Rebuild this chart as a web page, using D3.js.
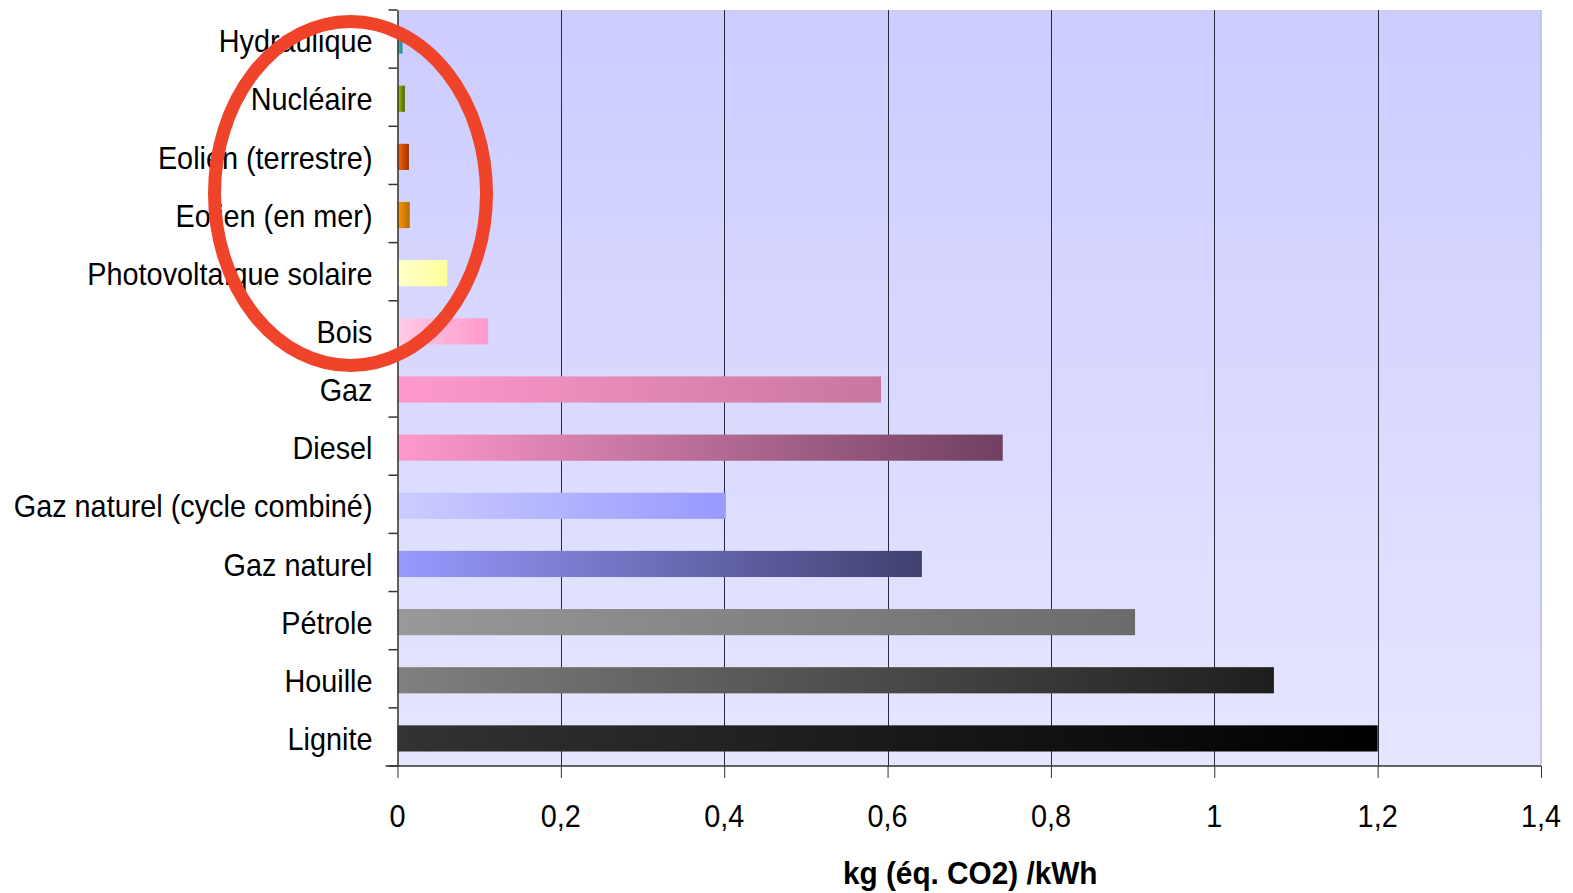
<!DOCTYPE html>
<html><head><meta charset="utf-8">
<script src="https://cdn.jsdelivr.net/npm/d3@7"></script>
<style>body{margin:0;background:#fff;}svg{display:block;font-family:Arial,"Liberation Sans",sans-serif;}</style>
</head><body>
<svg id="c" width="1573" height="893"></svg>
<script>
const categories = ["Hydraulique","Nucléaire","Eolien (terrestre)","Eolien (en mer)","Photovoltaïque solaire","Bois","Gaz","Diesel","Gaz naturel (cycle combiné)","Gaz naturel","Pétrole","Houille","Lignite"];
const values = [0.006,0.009,0.014,0.015,0.061,0.111,0.592,0.741,0.402,0.642,0.903,1.073,1.2];
const colorStart = ["#40d0d0","#99cc00","#ff6600","#ff9900","#ffffcc","#ffcce6","#ff99cc","#ff99cc","#ccccff","#9999ff","#999999","#808080","#333333"];
const colorEnd =   ["#1a8080","#4d6600","#993300","#b36b00","#ffff99","#ff99cc","#c8779f","#704060","#9999ff","#404070","#6b6b6b","#1e1e1e","#000000"];
const xTicks = [0,0.2,0.4,0.6,0.8,1,1.2,1.4];
const xTickLabels = ["0","0,2","0,4","0,6","0,8","1","1,2","1,4"];
const xTitle = "kg (éq. CO2) /kWh";

const svg = d3.select("#c");
const L = 397.5, R = 1541, T = 10, B = 766;
const x = d3.scaleLinear().domain([0,1.4]).range([L,R]);
const y = d3.scaleBand().domain(categories).range([T,B]).paddingInner(0.55).paddingOuter(0.275);
const yb = d3.scaleBand().domain(categories).range([T,B]);

const defs = svg.append("defs");
const bg = defs.append("linearGradient").attr("id","bg").attr("x1",0).attr("y1",0).attr("x2",0).attr("y2",1);
bg.append("stop").attr("offset","0").attr("stop-color","#ccccff");
bg.append("stop").attr("offset","1").attr("stop-color","#e6e6ff");
categories.forEach((c,i)=>{
  const g = defs.append("linearGradient").attr("id","g"+i).attr("x1",0).attr("y1",0).attr("x2",1).attr("y2",0);
  g.append("stop").attr("offset","0").attr("stop-color",colorStart[i]);
  g.append("stop").attr("offset","1").attr("stop-color",colorEnd[i]);
});

svg.append("rect").attr("x",L).attr("y",T).attr("width",R-L).attr("height",B-T).attr("fill","url(#bg)");
svg.append("line").attr("x1",R).attr("x2",R).attr("y1",T).attr("y2",B).attr("stroke","#b8b8e8").attr("stroke-width",1.5);

// gridlines
svg.append("g").selectAll("line").data(xTicks.filter(d=>d>0 && d<1.4)).join("line")
  .attr("x1",d=>Math.round(x(d))+0.5).attr("x2",d=>Math.round(x(d))+0.5).attr("y1",T).attr("y2",B)
  .attr("stroke","#2a2a3a").attr("stroke-width",1);

// bars
svg.append("g").selectAll("rect").data(categories).join("rect")
  .attr("x",x(0)).attr("y",d=>y(d)+1.5).attr("height",y.bandwidth())
  .attr("width",(d,i)=>x(values[i])-x(0)).attr("fill",(d,i)=>"url(#g"+i+")");

// y axis
const ya = svg.append("g").attr("transform",`translate(${L},0)`)
  .call(d3.axisLeft(yb).tickSize(0).tickFormat(""));
ya.select(".domain").attr("stroke","#333").attr("stroke-width",1.5);
svg.append("g").selectAll("line").data(d3.range(categories.length+1)).join("line")
  .attr("x1",L-9).attr("x2",L).attr("y1",i=>T+i*yb.step()).attr("y2",i=>T+i*yb.step())
  .attr("stroke","#333").attr("stroke-width",1.5);
svg.append("g").selectAll("text").data(categories).join("text")
  .attr("transform",d=>`translate(${L-25},${yb(d)+yb.bandwidth()/2+2}) scale(0.93,1)`)
  .attr("text-anchor","end").attr("dy","0.36em").attr("font-size",31).attr("fill","#000").text(d=>d);

// x axis
const xa = svg.append("g").attr("transform",`translate(0,${B})`)
  .call(d3.axisBottom(x).tickValues(xTicks).tickSize(12).tickSizeOuter(0).tickFormat((d,i)=>""));
xa.select(".domain").attr("stroke","#333").attr("stroke-width",1.5).attr("d",`M${L-12},0H${R}`);
xa.selectAll(".tick line").attr("stroke","#333").attr("stroke-width",1);
svg.append("g").selectAll("text").data(xTicks).join("text")
  .attr("transform",d=>`translate(${x(d)},${827}) scale(0.93,1)`)
  .attr("text-anchor","middle").attr("font-size",31).attr("fill","#000").text((d,i)=>xTickLabels[i]);
svg.append("text").attr("transform",`translate(${(L+R)/2+1},${884}) scale(0.96,1)`)
  .attr("text-anchor","middle").attr("font-size",31).attr("font-weight","bold").text(xTitle);

// annotation ellipse
svg.append("ellipse").attr("cx",350.5).attr("cy",193.5).attr("rx",136).attr("ry",172)
  .attr("fill","none").attr("stroke","#ef4429").attr("stroke-width",13);
</script>
</body></html>
